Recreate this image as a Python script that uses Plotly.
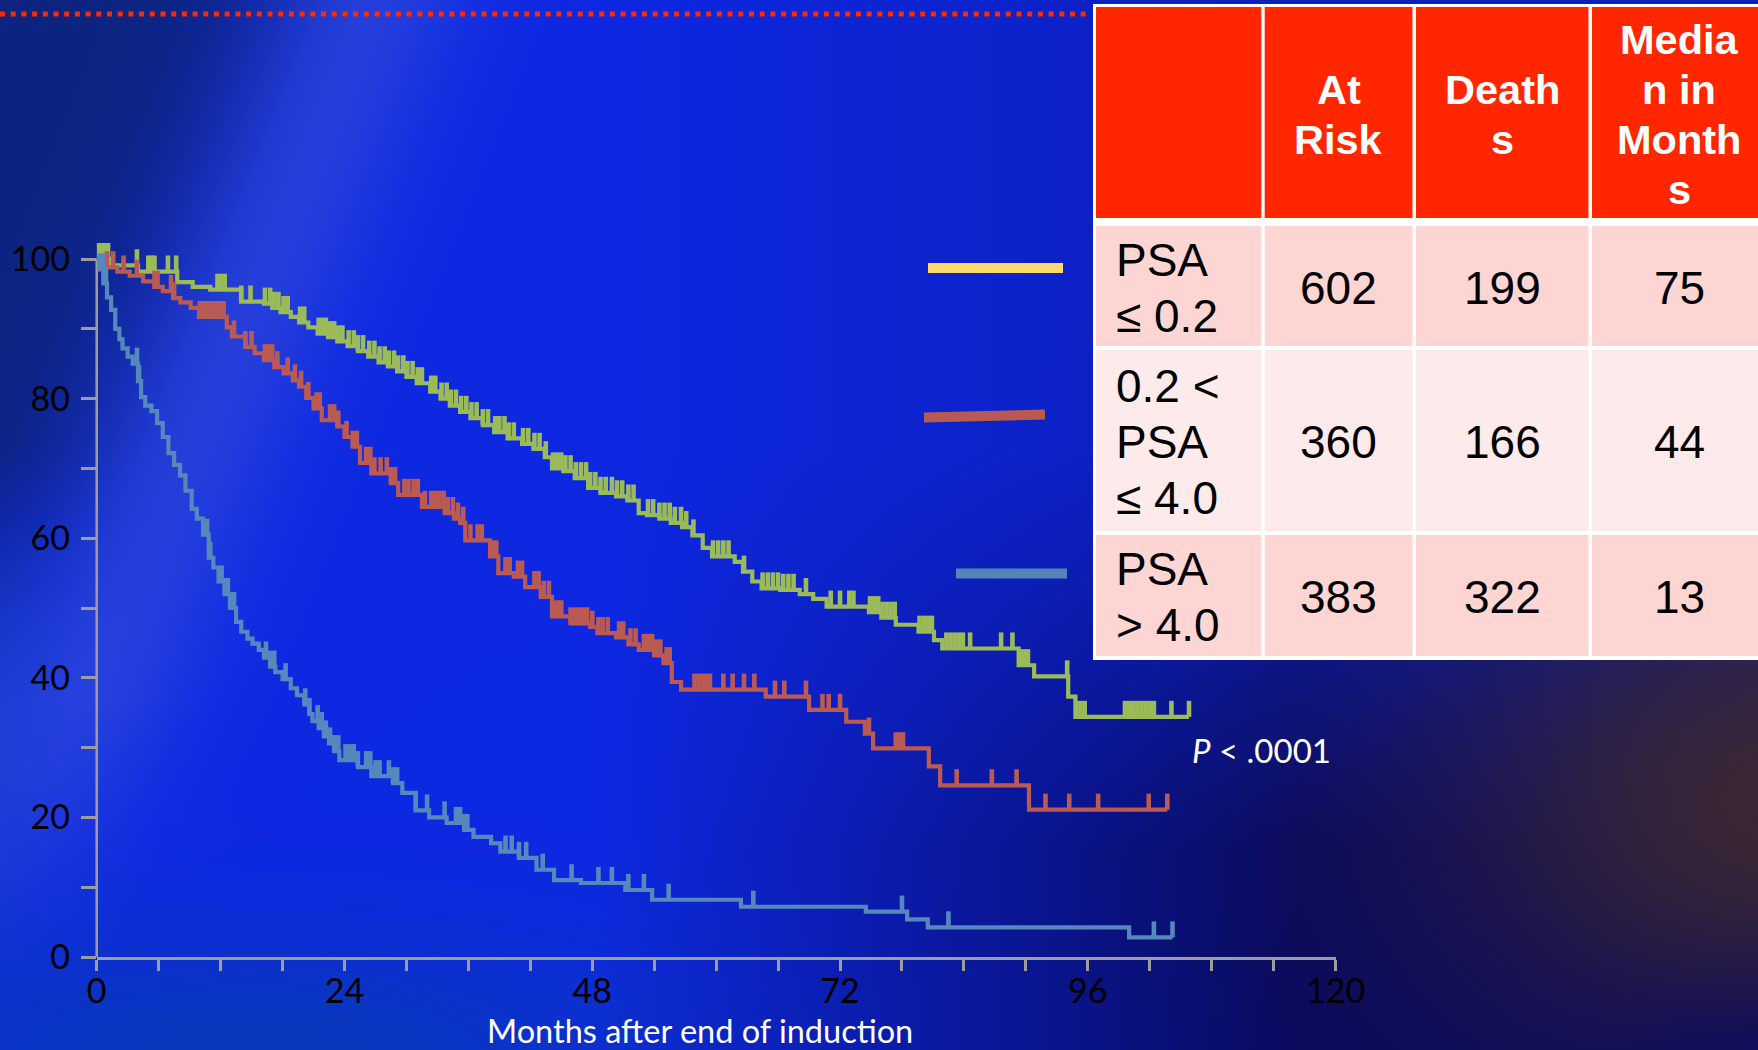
import base64
import bisect
import struct
import zlib

import numpy as np
import plotly.graph_objects as go

W, H = 1758, 1050

# ---------------- Kaplan-Meier data (months, % surviving) ----------------
# PSA <= 0.2
months_low = [0, 1.2, 4.0, 7.8, 9.3, 11.0, 14.0, 16.2, 17.0, 17.8, 18.8, 19.6, 20.5, 21.4, 22.4, 23.3,
              24.3, 25.3, 26.3, 27.3, 28.2, 29.1, 30.0, 31.0, 32.3, 33.3, 34.2, 35.2, 36.2, 37.4, 38.5,
              39.8, 41.2, 42.3, 43.4, 44.1, 45.2, 46.3, 47.6, 48.8, 50.3, 51.4, 52.5, 53.3, 54.5, 55.6,
              56.7, 57.7, 58.7, 59.6, 61.8, 62.6, 63.5, 64.4, 66.2, 68.1, 69.4, 70.7, 74.8, 76.0, 77.4,
              79.6, 81.1, 81.9, 89.3, 90.8, 94.1, 94.8]
surv_low = [100, 99.1, 98.2, 96.7, 96.0, 95.6, 93.9, 93.6, 93.0, 92.4, 91.7, 90.9, 90.2, 89.3, 88.8, 88.2,
            87.5, 86.8, 86.0, 85.2, 84.6, 83.9, 83.1, 82.2, 81.0, 80.0, 79.0, 78.1, 77.2, 76.2, 75.2,
            74.3, 73.5, 72.8, 71.6, 70.0, 69.6, 68.6, 67.2, 66.5, 66.0, 65.4, 63.6, 63.3, 62.8, 62.2,
            61.6, 60.4, 58.6, 57.4, 56.6, 55.2, 53.8, 52.8, 52.6, 52.0, 51.3, 50.2, 49.4, 48.6, 47.6,
            46.6, 45.4, 44.2, 41.8, 40.2, 37.3, 34.4]
censor_low = [0.2, 0.5, 0.8, 1.1, 3.9, 5.0, 5.3, 5.6, 6.9, 7.7, 11.7, 12.0, 12.4, 14.0, 14.9,
              16.3, 16.8, 17.2, 17.6, 18.1, 18.5, 19.7, 20.1, 21.5, 21.9, 22.2, 22.6, 23.0, 23.4, 23.8,
              24.4, 24.9, 25.3, 25.8, 26.4, 26.9, 27.4, 27.9, 28.3, 28.8, 29.2, 29.7, 30.1, 30.6, 31.1,
              31.5, 32.4, 32.8, 33.4, 33.9, 34.3, 34.8, 35.3, 35.8, 36.3, 36.8, 37.4, 37.9, 38.6, 39.0,
              39.5, 39.9, 40.4, 41.3, 41.8, 42.4, 42.9, 43.5, 44.2, 44.6, 45.0, 45.4, 45.9, 46.4, 46.9,
              47.4, 47.8, 48.3, 48.8, 49.3, 49.9, 50.4, 50.9, 51.5, 52.0, 53.4, 53.9, 54.5, 55.0, 55.5,
              56.0, 56.6, 57.1, 57.8, 59.7, 60.2, 60.7, 61.2, 62.7, 64.5, 65.0, 65.5, 66.0, 66.5, 67.0,
              67.5, 68.7, 71.1, 72.0, 72.9, 73.3, 74.9, 75.3, 75.7, 76.1, 76.5, 76.9, 77.3, 79.7, 80.1,
              80.5, 80.9, 82.3, 82.7, 83.1, 83.5, 83.9, 84.6, 87.6, 88.7, 89.4, 89.8, 90.2, 94.0, 94.9,
              95.3, 95.7, 99.6, 100.0, 100.4, 100.8, 101.2, 101.6, 102.0, 102.4, 104.1, 105.8]
last_low = 105.8

# 0.2 < PSA <= 4.0
months_mid = [0, 0.7, 2.0, 3.2, 4.5, 5.6, 6.4, 7.4, 8.1, 9.1, 9.9, 12.6, 13.1, 14.4, 15.3, 16.2, 17.2,
              18.1, 19.0, 19.6, 20.3, 21.0, 21.8, 23.3, 24.0, 24.8, 25.5, 26.6, 28.5, 29.2, 31.5, 33.7,
              34.6, 35.2, 35.7, 38.1, 38.9, 40.4, 41.5, 43.0, 44.1, 45.9, 47.8, 48.5, 50.3, 51.5, 52.5,
              54.0, 54.9, 55.7, 56.6, 64.8, 69.0, 72.6, 74.4, 75.2, 80.6, 81.7, 90.3]
surv_mid = [100, 98.8, 98.2, 97.6, 96.8, 96.0, 95.4, 94.4, 93.8, 93.0, 91.7, 90.2, 88.9, 87.4, 86.5, 85.5,
            84.5, 83.6, 82.6, 81.7, 80.1, 78.6, 76.9, 76.0, 74.5, 73.1, 70.8, 69.3, 67.9, 66.2, 64.5,
            63.6, 62.8, 62.2, 59.7, 57.4, 55.0, 54.5, 53.0, 51.6, 48.8, 47.8, 47.3, 46.4, 45.8, 44.8,
            44.0, 43.2, 42.1, 39.4, 38.3, 37.3, 35.4, 33.7, 32.0, 29.9, 27.3, 24.6, 21.1]
censor_mid = [1.0, 1.6, 2.6, 3.9, 5.6, 5.9, 7.2, 7.5, 10.0, 10.4, 10.8, 11.2, 11.6, 12.0, 12.3, 13.3,
              14.4, 15.0, 16.3, 16.6, 17.0, 17.5, 18.5, 19.2, 19.8, 20.5, 21.3, 21.6, 22.6, 23.0, 23.4,
              24.2, 24.8, 25.2, 26.1, 26.5, 26.9, 27.5, 28.1, 28.5, 28.9, 29.8, 30.2, 30.7, 31.1, 31.8,
              32.4, 32.8, 33.2, 33.6, 34.0, 34.5, 35.0, 35.5, 36.2, 36.9, 37.3, 38.3, 38.7, 39.6, 40.0,
              40.8, 41.2, 42.4, 42.8, 43.3, 43.8, 44.3, 44.7, 45.0, 45.9, 46.3, 46.7, 47.1, 47.5, 48.0,
              48.6, 49.0, 49.5, 50.6, 51.0, 51.7, 52.2, 53.0, 53.4, 53.8, 54.2, 54.6, 55.2, 55.5, 57.9,
              58.3, 58.7, 59.1, 59.4, 60.7, 61.6, 62.7, 63.7, 65.7, 66.6, 68.7, 70.3, 70.9, 72.0, 74.8,
              77.4, 77.8, 78.1, 83.3, 86.7, 89.1, 91.9, 94.2, 97.0, 101.9, 103.7]
last_mid = 103.7

# PSA > 4.0
months_high = [0, 0.3, 0.64, 1.0, 1.4, 1.8, 2.2, 2.5, 3.0, 3.5, 4.0, 4.3, 4.7, 5.3, 5.85, 6.4, 6.95,
               7.5, 8.07, 8.6, 9.2, 9.7, 10.3, 10.85, 11.3, 11.8, 12.4, 12.9, 13.5, 14.0, 14.6, 15.1,
               15.7, 16.2, 16.8, 17.3, 18.0, 18.8, 19.4, 20.1, 20.6, 20.9, 21.5, 22.0, 22.5, 23.0, 23.5,
               25.3, 26.6, 28.7, 29.6, 30.9, 32.2, 33.9, 35.6, 36.5, 38.2, 39.1, 40.9, 42.6, 44.3, 46.9,
               51.2, 53.8, 62.4, 74.5, 78.5, 80.5, 100.0]
surv_high = [100, 98.5, 96.5, 94.5, 92.7, 90.0, 88.5, 87.2, 86.0, 85.0, 82.5, 80.2, 79.0, 78.2, 76.5,
             74.5, 72.2, 70.5, 69.0, 66.8, 64.2, 62.8, 60.5, 57.2, 55.8, 53.8, 52.0, 50.0, 48.0, 46.6,
             45.6, 44.9, 44.0, 42.9, 41.6, 40.8, 39.8, 38.5, 37.5, 36.2, 34.8, 33.8, 32.8, 31.6, 30.6,
             29.5, 28.2, 27.2, 25.9, 24.9, 23.5, 21.0, 20.0, 19.2, 18.2, 17.2, 16.3, 15.1, 14.2, 12.5,
             11.0, 10.6, 9.6, 8.2, 7.2, 6.5, 5.4, 4.25, 2.8]
censor_high = [0.3, 0.6, 0.9, 3.9, 4.1, 10.4, 10.7, 11.0, 12.1, 12.4, 12.7, 13.0, 13.3, 16.4, 16.8,
               17.2, 18.3, 20.2, 20.6, 21.4, 21.8, 22.2, 22.6, 23.0, 23.4, 24.1, 24.5, 24.9, 25.3, 26.1,
               26.5, 27.0, 27.4, 28.3, 28.7, 29.1, 30.9, 32.0, 33.7, 34.8, 35.2, 35.6, 35.9, 39.6, 40.2,
               40.9, 41.6, 43.2, 46.0, 48.6, 49.9, 51.5, 53.0, 55.4, 63.6, 78.0, 82.5, 102.4, 104.2]
last_high = 104.2

# ---------------- summary table ----------------
header_lines = [[], ["At", "Risk"], ["Death", "s"], ["Media", "n in", "Month", "s"]]
group_lines = [["PSA", "≤ 0.2"], ["0.2 &lt;", "PSA", "≤ 4.0"], ["PSA", "&gt; 4.0"]]
at_risk = [602, 360, 383]
deaths = [199, 166, 322]
median_months = [75, 44, 13]

p_value_text = "<i>P</i> &lt; .0001"
x_title = "Months after end of induction"

# ---------------- styles ----------------
GREEN, RED, BLUE = "#9bbb59", "#bb5a52", "#5687bd"
KEY_COLORS = ["#ffd96e", "#b95a52", "#5585b8"]
AXIS_GREY = "#9d9d9d"
TICK_FONT = dict(family="Lato", size=34, color="#000000")
CENSOR_H = 2.3

# pixel geometry of the plotting frame
X0_PX, X120_PX = 96.7, 1335.6
Y0_PX, PX_PER_PCT = 957.0, 6.98
Y_TOP = 103.0


def px_x(x):
    return x / W


def px_y(y):
    return 1 - y / H


# ---------------- backdrop ----------------
def backdrop_uri():
    s = 4
    h, w = H // s + 1, W // s + 1
    yy, xx = np.mgrid[0:h, 0:w].astype(float) * s
    img = np.empty((h, w, 3))
    img[:] = (14, 40, 226)

    def mix(col, a):
        a = np.clip(a, 0, 1)[..., None]
        img[:] = img * (1 - a) + np.array(col, float) * a

    xc = 370 - 0.40 * yy
    d = (xx - xc) / np.hypot(1, 0.40)
    left = 1 / (1 + np.exp((d + 85) / 40))
    mix((12, 36, 128), left * np.clip((700 - yy) / 250, 0, 1))
    mix((38, 88, 170), 0.85 * left * np.clip((yy - 520) / 250, 0, 1))
    mix((70, 95, 222), 0.42 * np.exp(-(d / 95) ** 2) * np.clip((1000 - yy) / 300, 0, 1))
    mix((8, 62, 175), 0.75 * np.exp(-((xx - 250) / 420) ** 2 - ((yy - 1060) / 130) ** 2))
    mix((8, 10, 95), np.clip((xx - 600) / 700, 0, 1) * (0.3 + 0.7 * np.clip((yy - 450) / 400, 0, 1)))
    mix((64, 42, 48), 0.9 * np.exp(-((xx - 1780) / 330) ** 2 - ((yy - 800) / 260) ** 2))
    mix((10, 10, 100), 0.85 * np.exp(-((xx - 1780) / 170) ** 2 - ((yy - 1110) / 110) ** 2))

    arr = np.clip(img, 0, 255).astype(np.uint8)
    raw = b"".join(b"\x00" + arr[i].tobytes() for i in range(h))

    def chunk(tag, data):
        body = tag + data
        return struct.pack(">I", len(data)) + body + struct.pack(">I", zlib.crc32(body) & 0xFFFFFFFF)

    png = (b"\x89PNG\r\n\x1a\n"
           + chunk(b"IHDR", struct.pack(">IIBBBBB", w, h, 8, 2, 0, 0, 0))
           + chunk(b"IDAT", zlib.compress(raw, 9))
           + chunk(b"IEND", b""))
    return "data:image/png;base64," + base64.b64encode(png).decode()


# ---------------- curves ----------------
def step_at(times, surv, t):
    return surv[bisect.bisect_right(times, t) - 1]


fig = go.Figure()
groups = [
    (months_low, surv_low, censor_low, last_low, GREEN),
    (months_mid, surv_mid, censor_mid, last_mid, RED),
    (months_high, surv_high, censor_high, last_high, BLUE),
]
for times, surv, cens, last, col in groups:
    fig.add_trace(go.Scatter(
        x=times + [last], y=surv + [surv[-1]], mode="lines",
        line=dict(color=col, width=4.2, shape="hv"), hoverinfo="skip", showlegend=False))
    cx, cy = [], []
    for t in cens:
        v = step_at(times, surv, t)
        cx += [t, t, None]
        cy += [v, v + CENSOR_H, None]
    fig.add_trace(go.Scatter(
        x=cx, y=cy, mode="lines", line=dict(color=col, width=4.6),
        hoverinfo="skip", showlegend=False))

# ---------------- table (drawn on its own hidden axes, units = px) ----------------
T_LEFT, T_TOP, T_BOTTOM = 1092, 4, 662
col_edges = [(4, 169.3), (172.7, 320.5), (324, 496.5), (500, 674)]
row_edges = [(3, 214), (222, 342), (346, 527), (531, 652)]
HEADER_FILL = "#ff2600"
ROW_FILLS = ["#fdd5d3", "#fdeaea", "#fdd5d3"]
HEAD_FONT = dict(family="Liberation Sans, Arial", size=41.5, color="white")
BODY_FONT = dict(family="Liberation Sans, Arial", size=46, color="black")

shapes = []
annotations = []
shapes.append(dict(type="rect", xref="x2", yref="y2", x0=1, x1=700, y0=0, y1=656,
                   fillcolor="white", line=dict(width=0), layer="above"))
for j, (c0, c1) in enumerate(col_edges):
    r0, r1 = row_edges[0]
    shapes.append(dict(type="rect", xref="x2", yref="y2", x0=c0, x1=c1, y0=r0, y1=r1,
                       fillcolor=HEADER_FILL, line=dict(width=0), layer="above"))
    for i in range(3):
        r0, r1 = row_edges[i + 1]
        shapes.append(dict(type="rect", xref="x2", yref="y2", x0=c0, x1=c1, y0=r0, y1=r1,
                           fillcolor=ROW_FILLS[i], line=dict(width=0), layer="above"))


def cell_lines(lines, xc, yc, spacing, font, xanchor="center", bold=False):
    n = len(lines)
    for k, txt in enumerate(lines):
        annotations.append(dict(
            xref="x2", yref="y2", x=xc, y=yc + (k - (n - 1) / 2) * spacing,
            text=f"<b>{txt}</b>" if bold else txt, showarrow=False, font=font,
            xanchor=xanchor, yanchor="middle"))


head_mid = (row_edges[0][0] + row_edges[0][1]) / 2 + 1.5
for j, lines in enumerate(header_lines):
    c0, c1 = col_edges[j]
    cell_lines(lines, (c0 + c1) / 2, head_mid, 50, HEAD_FONT, bold=True)

for i in range(3):
    r0, r1 = row_edges[i + 1]
    ym = (r0 + r1) / 2 + 1.5
    cell_lines(group_lines[i], 22, ym, 56, BODY_FONT, xanchor="left")
    for j, val in enumerate([at_risk[i], deaths[i], median_months[i]], start=1):
        c0, c1 = col_edges[j]
        cell_lines([str(val)], (c0 + c1) / 2, ym, 56, BODY_FONT)

# ---------------- decorations ----------------
# dotted rule along the top
shapes.append(dict(type="line", xref="paper", yref="paper", x0=0, x1=px_x(1091),
                   y0=px_y(14), y1=px_y(14), line=dict(color="#ff2a00", width=5, dash="5px,5.7px")))
# y-axis spine from 0 to 100
shapes.append(dict(type="line", xref="paper", yref="y", x0=px_x(X0_PX), x1=px_x(X0_PX), y0=0, y1=100,
                   line=dict(color=AXIS_GREY, width=2.5), layer="below"))
# group key bars
key_bars = [((928, 268), (1063, 268)), ((924, 417.5), (1045, 414.5)), ((956, 573.5), (1067, 573.5))]
for (a, b), col in zip(key_bars, KEY_COLORS):
    shapes.append(dict(type="line", xref="paper", yref="paper",
                       x0=px_x(a[0]), y0=px_y(a[1]), x1=px_x(b[0]), y1=px_y(b[1]),
                       line=dict(color=col, width=10)))

annotations.append(dict(xref="paper", yref="paper", x=px_x(1190), y=px_y(750), text=p_value_text,
                        showarrow=False, xanchor="left", yanchor="middle",
                        font=dict(family="Lato", size=33, color="white")))
annotations.append(dict(xref="paper", yref="paper", x=px_x(700), y=px_y(1030.5), text=x_title,
                        showarrow=False, xanchor="center", yanchor="middle",
                        font=dict(family="Lato", size=32.5, color="white")))

x_ticks = list(range(0, 121, 6))
y_ticks = list(range(0, 101, 10))

fig.update_layout(
    width=W, height=H, autosize=False,
    margin=dict(l=0, r=0, t=0, b=0),
    paper_bgcolor="#0e28e2", plot_bgcolor="rgba(0,0,0,0)",
    showlegend=False,
    images=[dict(source=backdrop_uri(), xref="paper", yref="paper", x=0, y=1, sizex=1, sizey=1,
                 xanchor="left", yanchor="top", sizing="stretch", layer="below")],
    xaxis=dict(domain=[px_x(X0_PX), px_x(X120_PX)], range=[0, 120], showgrid=False, zeroline=False,
               showline=True, linecolor=AXIS_GREY, linewidth=2.5,
               ticks="outside", ticklen=11, tickwidth=2.5, tickcolor=AXIS_GREY,
               tickvals=x_ticks, ticktext=[str(v) if v % 24 == 0 else "" for v in x_ticks],
               tickfont=TICK_FONT, ticklabelstandoff=-9, automargin=False, fixedrange=True),
    yaxis=dict(domain=[px_y(Y0_PX), px_y(Y0_PX - Y_TOP * PX_PER_PCT)], range=[0, Y_TOP],
               showgrid=False, zeroline=False, showline=False,
               ticks="outside", ticklen=15, tickwidth=2.5, tickcolor=AXIS_GREY,
               tickvals=y_ticks, ticktext=[str(v) if v % 20 == 0 else "" for v in y_ticks],
               tickfont=TICK_FONT, ticklabelstandoff=4, automargin=False, fixedrange=True),
    xaxis2=dict(domain=[px_x(T_LEFT), 1], range=[0, W - T_LEFT], visible=False, anchor="y2",
                fixedrange=True),
    yaxis2=dict(domain=[px_y(T_BOTTOM), px_y(T_TOP)], range=[T_BOTTOM - T_TOP, 0], visible=False,
                anchor="x2", fixedrange=True),
    shapes=shapes,
    annotations=annotations,
)

fig.write_html("out.html", config={"displayModeBar": False})
